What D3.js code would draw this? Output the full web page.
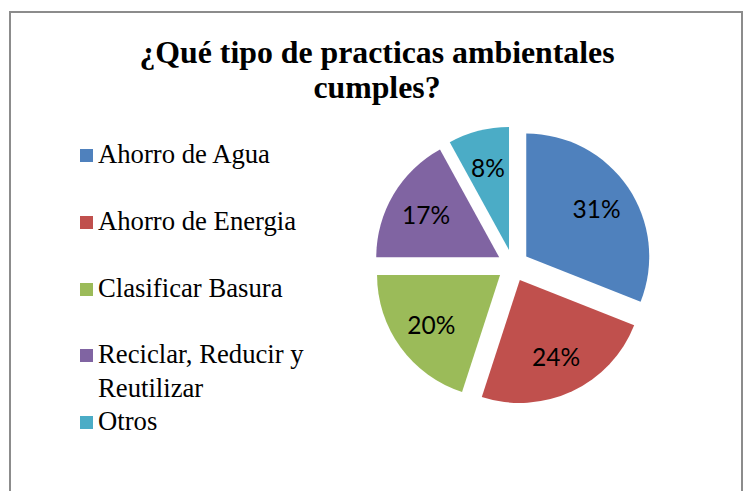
<!DOCTYPE html>
<html>
<head>
<meta charset="utf-8">
<script src="https://cdn.jsdelivr.net/npm/d3@7"></script>
<style>
  html, body { margin: 0; padding: 0; background: #fff; }
  svg { display: block; }
</style>
</head>
<body>
<div id="chart"></div>
<script>
// Data
const categories = ['Ahorro de Agua', 'Ahorro de Energia', 'Clasificar Basura', 'Reciclar, Reducir y Reutilizar', 'Otros'];
const values = [31, 24, 20, 17, 8];
const colors = ['#4F81BD', '#C0504D', '#9BBB59', '#8064A2', '#4BACC6'];
const legendLines = [['Ahorro de Agua'], ['Ahorro de Energia'], ['Clasificar Basura'], ['Reciclar, Reducir y', 'Reutilizar'], ['Otros']];
const titleLines = ['¿Qué tipo de practicas ambientales', 'cumples?'];

const width = 744;
const height = 491;

// Pie layout
const center = { x: 513, y: 265.5 };
const radius = 123;
const explode = 16;
const labelRadius = 85;

const svg = d3.select('#chart')
    .append('svg')
    .attr('width', width)
    .attr('height', height);

// Frame (no bottom edge, it is cut off)
svg.append('path')
    .attr('d', `M10,${height + 5} L10,12 L742,12 L742,${height + 5}`)
    .attr('fill', 'none')
    .attr('stroke', '#8c8c8c')
    .attr('stroke-width', 2);

// Title
svg.append('text')
    .attr('x', 377)
    .attr('y', 63)
    .attr('text-anchor', 'middle')
    .attr('font-family', 'Liberation Serif, Times New Roman, serif')
    .attr('font-weight', 'bold')
    .attr('font-size', 31.8)
    .selectAll('tspan')
    .data(titleLines)
    .join('tspan')
    .attr('x', 377)
    .attr('dy', (d, i) => i === 0 ? 0 : 35)
    .text(d => d);

// Pie
const pie = d3.pie().sort(null).value(d => d);
const arcs = pie(values);
const arc = d3.arc().innerRadius(0).outerRadius(radius);
const labelArc = d3.arc().innerRadius(labelRadius).outerRadius(labelRadius);

const slices = svg.append('g')
    .attr('transform', `translate(${center.x},${center.y})`)
    .selectAll('g')
    .data(arcs)
    .join('g')
    .attr('transform', d => {
        const mid = (d.startAngle + d.endAngle) / 2;
        return `translate(${explode * Math.sin(mid)},${-explode * Math.cos(mid)})`;
    });

slices.append('path')
    .attr('d', arc)
    .attr('fill', (d, i) => colors[i]);

slices.append('text')
    .attr('transform', d => `translate(${labelArc.centroid(d)})`)
    .attr('text-anchor', 'middle')
    .attr('dominant-baseline', 'central')
    .attr('font-family', 'Lato, Noto Sans, sans-serif')
    .attr('font-size', 24.5)
    .attr('fill', '#000')
    .text(d => d.value + '%');

// Legend
const legendY = [163, 230, 297, 363, 430];
const legend = svg.append('g')
    .selectAll('g')
    .data(categories)
    .join('g')
    .attr('transform', (d, i) => `translate(0,${legendY[i]})`);

legend.append('rect')
    .attr('x', 80)
    .attr('y', -14)
    .attr('width', 13)
    .attr('height', 13)
    .attr('fill', (d, i) => colors[i]);

legend.append('text')
    .attr('font-family', 'Liberation Serif, Times New Roman, serif')
    .attr('font-size', 26.7)
    .attr('fill', '#000')
    .selectAll('tspan')
    .data((d, i) => legendLines[i])
    .join('tspan')
    .attr('x', 98)
    .attr('dy', (d, i) => i === 0 ? 0 : 34)
    .text(d => d);
</script>
</body>
</html>
